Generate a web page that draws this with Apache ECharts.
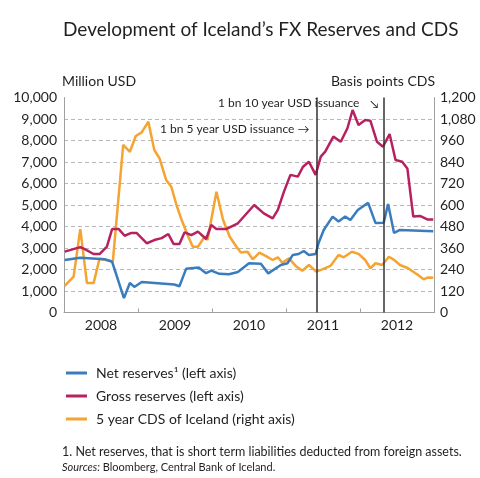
<!DOCTYPE html>
<html><head><meta charset="utf-8">
<script src="https://cdn.jsdelivr.net/npm/echarts@6/dist/echarts.min.js"></script>
<style>html,body{margin:0;padding:0;background:#fff}#c{width:480px;height:478px}</style>
</head><body><div id="c"></div>
<script>
const years = ['2008','2009','2010','2011','2012'];
const leftTicks = [0,1000,2000,3000,4000,5000,6000,7000,8000,9000,10000];
const rightTicks = [0,120,240,360,480,600,720,840,960,1080,1200];
const issuanceDates = [2011.41, 2012.32];

const netX = [2008.01,2008.22,2008.55,2008.65,2008.81,2008.89,2008.95,2009.05,2009.49,2009.56,2009.65,2009.82,2009.92,2009.99,2010.10,2010.23,2010.35,2010.50,2010.66,2010.76,2010.93,2011.02,2011.09,2011.17,2011.24,2011.31,2011.40,2011.44,2011.51,2011.63,2011.71,2011.80,2011.87,2011.97,2012.11,2012.21,2012.32,2012.38,2012.46,2012.54,2012.99];
const netY = [2440,2550,2480,2360,670,1370,1190,1420,1300,1220,2030,2090,1830,1950,1800,1780,1880,2290,2270,1820,2210,2290,2670,2720,2860,2670,2720,3230,3840,4460,4230,4460,4300,4770,5100,4160,4180,5050,3700,3840,3780];

const grossX = [2008.01,2008.22,2008.28,2008.40,2008.48,2008.58,2008.65,2008.74,2008.82,2008.91,2008.98,2009.12,2009.22,2009.32,2009.41,2009.48,2009.56,2009.63,2009.72,2009.81,2009.92,2009.99,2010.06,2010.19,2010.35,2010.57,2010.70,2010.82,2010.89,2010.97,2011.06,2011.16,2011.23,2011.31,2011.40,2011.47,2011.53,2011.64,2011.74,2011.83,2011.90,2011.98,2012.07,2012.14,2012.23,2012.31,2012.40,2012.48,2012.57,2012.64,2012.72,2012.81,2012.91,2012.99];
const grossY = [2830,3040,2950,2720,2720,3060,3880,3880,3570,3700,3700,3220,3370,3460,3650,3190,3190,3730,3600,3760,3420,4070,3880,3880,4150,5000,4610,4380,4770,5600,6400,6320,6780,7010,6400,7250,7480,8180,7940,8570,9420,8720,8950,8920,7940,7710,8300,7090,7010,6700,4460,4490,4330,4330];

const cdsX = [2008.01,2008.13,2008.22,2008.31,2008.40,2008.48,2008.66,2008.80,2008.89,2008.97,2009.05,2009.14,2009.22,2009.29,2009.38,2009.45,2009.52,2009.59,2009.68,2009.74,2009.81,2009.90,2009.94,2010.06,2010.15,2010.24,2010.33,2010.39,2010.48,2010.55,2010.64,2010.73,2010.82,2010.89,2010.95,2011.04,2011.13,2011.22,2011.31,2011.41,2011.49,2011.60,2011.71,2011.78,2011.89,2011.98,2012.07,2012.14,2012.21,2012.30,2012.39,2012.45,2012.54,2012.65,2012.77,2012.86,2012.92,2012.99];
const cdsY = [148,200,465,164,164,300,285,935,897,985,1005,1065,907,861,740,702,600,516,423,367,367,423,405,674,516,423,367,335,339,297,334,315,293,308,278,302,260,233,265,228,241,260,321,308,339,327,293,247,275,265,311,297,265,247,213,185,196,194];

const pair = (xs, ys) => xs.map((x, i) => [x, ys[i]]);
const FONT = 'Lato';
const TXT = '#231f20';

const chart = echarts.init(document.getElementById('c'), null, {renderer: 'canvas'});
const gridLineColors = leftTicks.map((t, i) => i === leftTicks.length - 1 ? 'rgba(0,0,0,0)' : '#b9b9b9');

chart.setOption({
  animation: false,
  textStyle: {fontFamily: FONT},
  title: {
    text: 'Development of Iceland\u2019s FX Reserves and CDS',
    left: 58, top: 15,
    textStyle: {fontFamily: FONT, fontSize: 19, fontWeight: 'normal', color: TXT}
  },
  legend: {
    orient: 'vertical', left: 61, top: 361, itemGap: 9,
    itemWidth: 21, itemHeight: 3, icon: 'rect',
    textStyle: {fontFamily: FONT, fontSize: 14, color: TXT, padding: [0, 0, 0, 4]},
    data: ['Net reserves\u00b9 (left axis)', 'Gross reserves (left axis)', '5 year CDS of Iceland (right axis)']
  },
  grid: {left: 64, right: 46, top: 97.5, bottom: 165.5},
  xAxis: [
    {type: 'category', data: years, boundaryGap: true, position: 'bottom',
     axisLine: {lineStyle: {color: '#a0a0a0', width: 1}},
     axisTick: {show: true, inside: true, length: 4, lineStyle: {color: '#a0a0a0'}},
     axisLabel: {fontFamily: FONT, fontSize: 14, color: TXT, margin: 6},
     splitLine: {show: false}},
    {type: 'value', min: 2008, max: 2013, show: false}
  ],
  yAxis: [
    {type: 'value', min: 0, max: 10000, interval: 1000, position: 'left',
     axisLine: {show: true, lineStyle: {color: '#a0a0a0'}},
     axisTick: {show: false},
     axisLabel: {fontFamily: FONT, fontSize: 14, color: TXT, margin: 7,
       formatter: v => v.toLocaleString('en-US')},
     splitLine: {show: true, lineStyle: {type: [4, 3], color: gridLineColors, width: 1}}},
    {type: 'value', min: 0, max: 1200, interval: 120, position: 'right',
     axisLine: {show: true, lineStyle: {color: '#a0a0a0'}},
     axisTick: {show: false},
     axisLabel: {fontFamily: FONT, fontSize: 14, color: TXT, margin: 6,
       formatter: v => v.toLocaleString('en-US')},
     splitLine: {show: false}}
  ],
  series: [
    {name: 'Net reserves\u00b9 (left axis)', type: 'line', xAxisIndex: 1, yAxisIndex: 0,
     data: pair(netX, netY), showSymbol: false, symbol: 'none',
     lineStyle: {color: '#3a7dbf', width: 2.5}, itemStyle: {color: '#3a7dbf'}, z: 4,
     markLine: {silent: true, symbol: 'none', label: {show: false},
       lineStyle: {color: '#333', width: 1.5, type: 'solid'},
       data: issuanceDates.map(d => ({xAxis: d}))}},
    {name: 'Gross reserves (left axis)', type: 'line', xAxisIndex: 1, yAxisIndex: 0,
     data: pair(grossX, grossY), showSymbol: false, symbol: 'none',
     lineStyle: {color: '#b8215f', width: 2.5}, itemStyle: {color: '#b8215f'}, z: 3},
    {name: '5 year CDS of Iceland (right axis)', type: 'line', xAxisIndex: 1, yAxisIndex: 1,
     data: pair(cdsX, cdsY), showSymbol: false, symbol: 'none',
     lineStyle: {color: '#f5a331', width: 2.5}, itemStyle: {color: '#f5a331'}, z: 2}
  ],
  graphic: [
    {type: 'text', left: 62, top: 74, style: {text: 'Million USD', font: '14px ' + FONT, fill: TXT}},
    {type: 'text', right: 45, top: 74, style: {text: 'Basis points CDS', font: '14px ' + FONT, fill: TXT}},
    {type: 'text', left: 218, top: 97, z: 10, style: {text: '1 bn 10 year USD issuance', font: '12px ' + FONT, fill: TXT}},
    {type: 'text', left: 370, top: 99, z: 10, style: {text: '\u2198', font: '11px ' + FONT, fill: TXT}},
    {type: 'text', left: 160, top: 123, z: 10, style: {text: '1 bn 5 year USD issuance \u2192', font: '12px ' + FONT, fill: TXT}},
    {type: 'text', left: 62, top: 445, style: {text: '1. Net reserves, that is short term liabilities deducted from foreign assets.', font: '12.5px ' + FONT, fill: TXT}},
    {type: 'text', left: 62, top: 462, style: {
      text: '{i|Sources:} Bloomberg, Central Bank of Iceland.',
      font: '11px ' + FONT, fill: TXT,
      rich: {i: {fontStyle: 'italic', fontFamily: FONT, fontSize: 11, fill: TXT}}}}
  ]
});
</script>
</body></html>
